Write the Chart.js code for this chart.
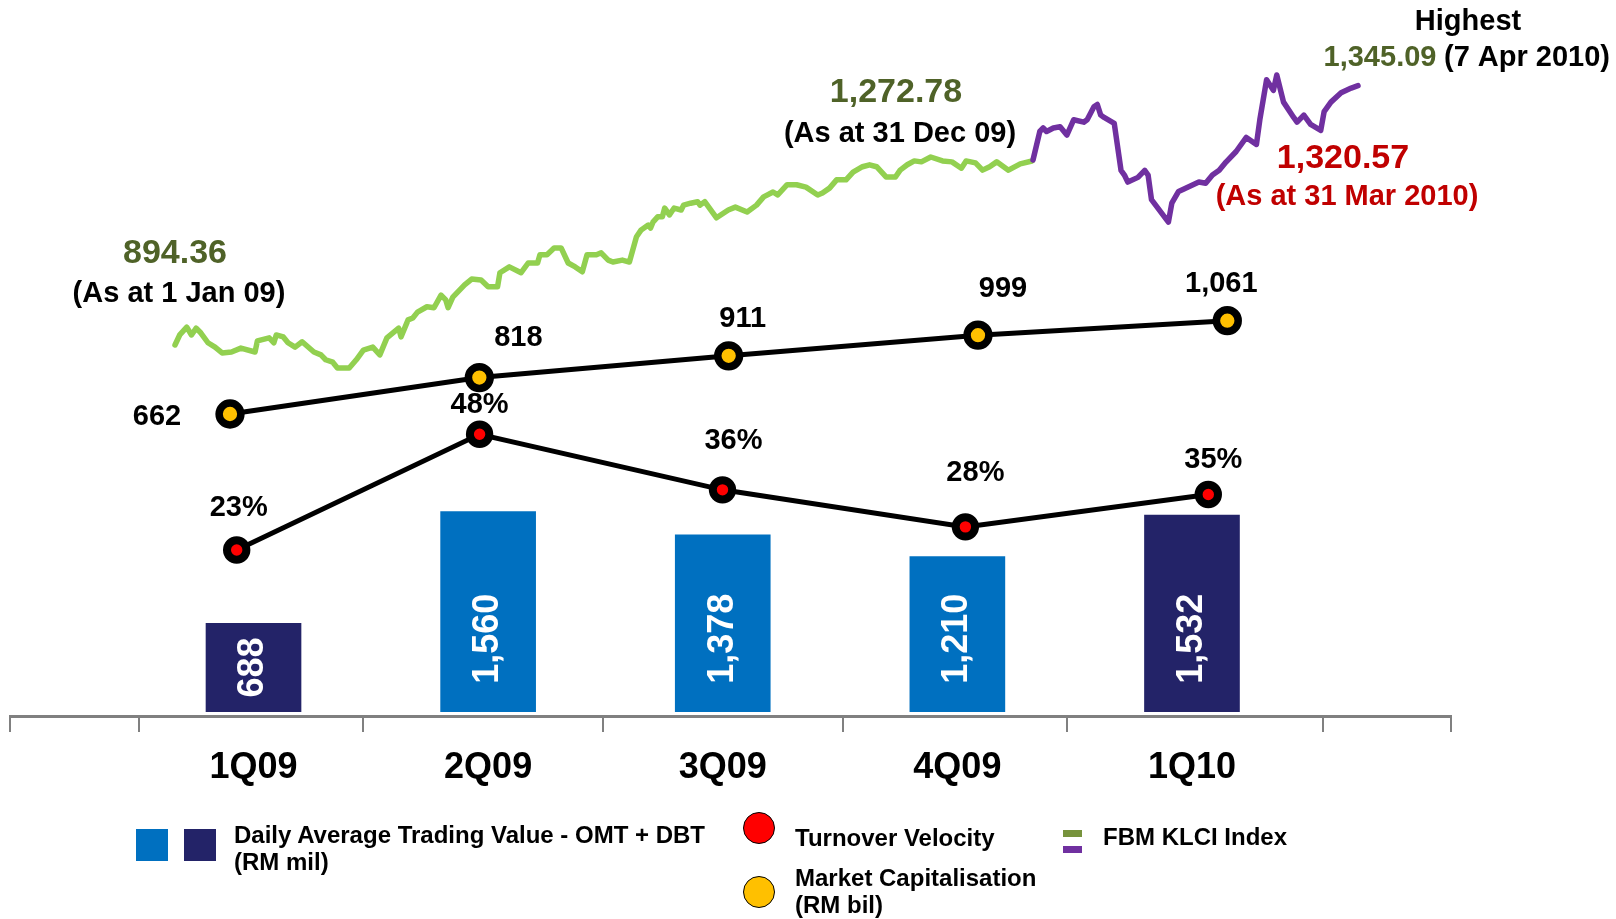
<!DOCTYPE html>
<html lang="en">
<head>
<meta charset="utf-8">
<title>Bursa Malaysia - 1Q10</title>
<script src="https://cdn.jsdelivr.net/npm/chart.js@4.4.1/dist/chart.umd.min.js"></script>
<style>
    body { margin: 0; background: #fff; }
    #lienzo { position: relative; width: 1616px; height: 919px; overflow: hidden;
        font-family: "Liberation Sans", Arial, sans-serif; font-weight: bold; color: #000; }
    #lienzo canvas { position: absolute; left: 0; top: 0; }
    .ley { position: absolute; }
    .txt { font-size: 24px; line-height: 27px; white-space: nowrap; }
    .circ { width: 30px; height: 30px; border: 1.5px solid #000; border-radius: 50%; }
</style>
</head>
<body>
<div id="lienzo">
    <canvas id="grafica" width="1616" height="919"></canvas>

    <!-- leyenda -->
    <div class="ley" style="left:136px; top:829px; width:32px; height:32px; background:#0070C0"></div>
    <div class="ley" style="left:184px; top:829px; width:32px; height:32px; background:#232368"></div>
    <div class="ley txt" style="left:234px; top:821px">Daily Average Trading Value - OMT + DBT<br>(RM mil)</div>

    <div class="ley circ" style="left:743px; top:812px; background:#FF0000"></div>
    <div class="ley txt" style="left:795px; top:824px">Turnover Velocity</div>
    <div class="ley circ" style="left:743px; top:876px; background:#FFC000"></div>
    <div class="ley txt" style="left:795px; top:864px">Market Capitalisation<br>(RM bil)</div>

    <div class="ley" style="left:1063px; top:830px; width:19px; height:7px; background:#77933C"></div>
    <div class="ley" style="left:1063px; top:846px; width:19px; height:7px; background:#7030A0"></div>
    <div class="ley txt" style="left:1103px; top:823px">FBM KLCI Index</div>
</div>

<script>
// datos
const trimestres = ['1Q09', '2Q09', '3Q09', '4Q09', '1Q10'];
const valorNegociacion = [688, 1560, 1378, 1210, 1532];      // RM mil
const velocidad = [23, 48, 36, 28, 35];                      // %
const capitalizacion = [662, 818, 911, 999, 1061];           // RM bil

// FBM KLCI 2009 (dia del año, valor)
const klci09Dias = [0, 2, 5, 7, 9, 11, 14, 17, 20, 24, 28, 34, 35, 40, 42, 43, 46, 48, 51, 54,
    59, 62, 64, 67, 69, 74, 77, 80, 84, 87, 90, 95, 96, 99, 101, 103, 107, 110, 113, 115,
    116, 118, 123, 126, 130, 133, 137, 138, 142, 147, 150, 154, 155, 158, 161, 164, 167, 170, 173, 175,
    179, 181, 184, 186, 190, 193, 196, 198, 201, 202, 203, 205, 207, 208, 210, 212, 215, 216, 219, 222,
    223, 225, 230, 235, 238, 243, 247, 250, 254, 256, 260, 264, 268, 273, 275, 278, 281, 285, 288, 292,
    295, 298, 302, 306, 308, 311, 314, 317, 321, 326, 330, 334, 336, 340, 343, 346, 349, 354, 359, 364];
const klci09Valores = [894.36, 915, 931, 915, 929, 919, 899, 890, 878, 880, 888, 880, 903, 909, 899, 915, 911, 899, 890, 901,
    880, 874, 864, 859, 847, 847, 864, 884, 890, 874, 909, 929, 911, 946, 950, 962, 973, 971, 997, 987,
    971, 993, 1018, 1030, 1028, 1014, 1014, 1043, 1055, 1043, 1063, 1063, 1080, 1080, 1094, 1094, 1063, 1055, 1045, 1080,
    1080, 1084, 1069, 1065, 1069, 1065, 1117, 1131, 1141, 1135, 1147, 1158, 1158, 1176, 1162, 1176, 1172, 1182, 1186, 1189,
    1182, 1189, 1156, 1172, 1178, 1168, 1182, 1199, 1209, 1203, 1224, 1224, 1219, 1203, 1207, 1217, 1234, 1234, 1250, 1261,
    1265, 1261, 1240, 1240, 1254, 1265, 1273, 1271, 1281, 1273, 1271, 1258, 1273, 1269, 1254, 1261, 1271, 1254, 1267, 1272.78];

// FBM KLCI 2010 (dia del año, valor)
const klci10Dias = [0, 2, 3, 4, 6, 8, 10, 12, 15, 16, 18, 19, 20, 21, 24, 26, 27, 28, 31, 33,
    34, 35, 40, 41, 43, 46, 49, 51, 53, 55, 57, 60, 63, 66, 67, 69, 71, 72, 74, 77,
    78, 80, 82, 85, 86, 88, 91, 94, 96];
const klci10Valores = [1272.78, 1297, 1300, 1297, 1300, 1301, 1294, 1307, 1305, 1307, 1318, 1320, 1311, 1309, 1304, 1264, 1260, 1254, 1258, 1264,
    1260, 1239, 1220, 1236, 1246, 1250, 1254, 1253, 1260, 1264, 1271, 1280, 1292, 1286, 1307, 1341, 1332, 1345.09, 1322, 1309,
    1305, 1311, 1303, 1298, 1314, 1322, 1330, 1334, 1336];

// marcas del eje inferior (en unidades de trimestre)
const marcasEje = [-1.0379, -0.4876, 0.4659, 1.4893, 2.5128, 3.4663, 4.5601, 5.104];

const FUENTE = '"Liberation Sans", Arial, sans-serif';
const coloresBarra = ['#232368', '#0070C0', '#0070C0', '#0070C0', '#232368'];
const OLIVA = '#4F6228';
const ROJO = '#C00000';

// textos sueltos sobre la grafica
const notas = [
    { t: '894.36', x: 175, y: 254, c: OLIVA, s: 34 },
    { t: '(As at 1 Jan 09)', x: 179, y: 294, c: '#000', s: 29 },
    { t: '1,272.78', x: 896, y: 93, c: OLIVA, s: 34 },
    { t: '(As at 31 Dec 09)', x: 900, y: 134, c: '#000', s: 29 },
    { t: 'Highest', x: 1468, y: 22, c: '#000', s: 29 },
    { t: '1,345.09', x: 1380, y: 58, c: OLIVA, s: 29 },
    { t: '(7 Apr 2010)', x: 1527, y: 58, c: '#000', s: 29 },
    { t: '1,320.57', x: 1343, y: 159, c: ROJO, s: 34 },
    { t: '(As at 31 Mar 2010)', x: 1347, y: 197, c: ROJO, s: 29 }
];
const despCap = [[-73, 3], [39, -40], [14, -37], [25, -46], [-6, -37]];
const despVel = [[2, -42], [0, -29], [11, -49], [10, -54], [5, -34]];

const etiquetas = {
    id: 'etiquetas',
    afterDatasetsDraw(chart) {
        const ctx = chart.ctx;
        ctx.save();
        ctx.textAlign = 'center';
        ctx.textBaseline = 'middle';

        // valores dentro de las barras
        chart.getDatasetMeta(4).data.forEach((bar, i) => {
            const alto = bar.base - bar.y;
            ctx.save();
            ctx.translate(bar.x, bar.base - Math.min(alto / 2, 73));
            ctx.rotate(-Math.PI / 2);
            ctx.font = 'bold 36px ' + FUENTE;
            ctx.fillStyle = '#fff';
            ctx.fillText(valorNegociacion[i].toLocaleString('en-US'), 0, 0);
            ctx.restore();
        });

        // etiquetas de las lineas
        ctx.font = 'bold 29px ' + FUENTE;
        ctx.fillStyle = '#000';
        chart.getDatasetMeta(1).data.forEach((p, i) => {
            ctx.fillText(capitalizacion[i].toLocaleString('en-US'), p.x + despCap[i][0], p.y + despCap[i][1]);
        });
        chart.getDatasetMeta(0).data.forEach((p, i) => {
            ctx.fillText(velocidad[i] + '%', p.x + despVel[i][0], p.y + despVel[i][1]);
        });

        notas.forEach(n => {
            ctx.font = 'bold ' + n.s + 'px ' + FUENTE;
            ctx.fillStyle = n.c;
            ctx.fillText(n.t, n.x, n.y);
        });
        ctx.restore();
    }
};

const ejeOculto = (min, max) => ({ type: 'linear', display: false, min, max, offset: false, grid: { offset: false } });

new Chart(document.getElementById('grafica'), {
    type: 'line',
    data: {
        datasets: [
            {
                type: 'line', label: 'Turnover Velocity',
                data: velocidad.map((v, i) => ({ x: i, y: v })),
                xAxisID: 'xVel', yAxisID: 'yVel',
                borderColor: '#000', borderWidth: 5,
                pointRadius: 9.7, pointBorderWidth: 8,
                pointBackgroundColor: '#FF0000', pointBorderColor: '#000'
            },
            {
                type: 'line', label: 'Market Capitalisation',
                data: capitalizacion.map((v, i) => ({ x: i, y: v })),
                xAxisID: 'xCap', yAxisID: 'yCap',
                borderColor: '#000', borderWidth: 5,
                pointRadius: 10.9, pointBorderWidth: 7.5,
                pointBackgroundColor: '#FFC000', pointBorderColor: '#000'
            },
            {
                type: 'line', label: 'FBM KLCI 2010',
                data: klci10Dias.map((d, i) => ({ x: d, y: klci10Valores[i] })),
                xAxisID: 'xK10', yAxisID: 'yK10',
                borderColor: '#7030A0', borderWidth: 5.5, pointRadius: 0,
                borderJoinStyle: 'round', borderCapStyle: 'round', tension: 0
            },
            {
                type: 'line', label: 'FBM KLCI 2009',
                data: klci09Dias.map((d, i) => ({ x: d, y: klci09Valores[i] })),
                xAxisID: 'xK09', yAxisID: 'yK09',
                borderColor: '#92D050', borderWidth: 5.5, pointRadius: 0,
                borderJoinStyle: 'round', borderCapStyle: 'round', tension: 0
            },
            {
                type: 'bar', label: 'Daily Average Trading Value',
                data: valorNegociacion.map((v, i) => ({ x: i, y: v })),
                xAxisID: 'x', yAxisID: 'yBar',
                backgroundColor: coloresBarra, grouped: false,
                categoryPercentage: 1, barPercentage: 1, maxBarThickness: 95, borderWidth: 0
            }
        ]
    },
    options: {
        responsive: false,
        animation: false,
        devicePixelRatio: 1,
        layout: { autoPadding: false, padding: { left: 10, right: 165, top: 0, bottom: 0 } },
        plugins: { legend: { display: false }, tooltip: { enabled: false } },
        scales: {
            x: {
                type: 'linear', position: 'bottom', min: -1.0379, max: 5.104,
                offset: false,
                afterBuildTicks: eje => {
                    eje.ticks = marcasEje.concat(trimestres.map((_, i) => i))
                        .sort((a, b) => a - b).map(v => ({ value: v }));
                },
                afterFit: eje => {
                    eje.height = 203;
                    eje.paddingLeft = 0;
                    eje.paddingRight = 0;
                },
                grid: {
                    offset: false, drawOnChartArea: false, drawTicks: true, tickLength: 16, lineWidth: 2,
                    color: c => (c.tick && Number.isInteger(c.tick.value)) ? 'rgba(0,0,0,0)' : '#808080'
                },
                border: { display: true, color: '#808080', width: 3 },
                ticks: {
                    autoSkip: false, maxRotation: 0, padding: 14, color: '#000',
                    font: { size: 36, weight: 'bold', family: FUENTE },
                    callback: v => Number.isInteger(v) ? trimestres[v] : ''
                }
            },
            xCap: ejeOculto(-0.8824, 4.8972),
            xVel: ejeOculto(-0.9333, 4.9992),
            xK09: ejeOculto(-70.08, 541.96),
            xK10: ejeOculto(-302.18, 123.47),
            yBar: { type: 'linear', display: false, min: -33.5, max: 5547.2 },
            yCap: { type: 'linear', display: false, min: -629.5, max: 2432.5 },
            yVel: { type: 'linear', display: false, min: -12.87, max: 141.84 },
            yK09: { type: 'linear', display: false, min: 131.35, max: 1603.9 },
            yK10: { type: 'linear', display: false, min: 799.79, max: 1408.89 }
        }
    },
    plugins: [etiquetas]
});
</script>
</body>
</html>
